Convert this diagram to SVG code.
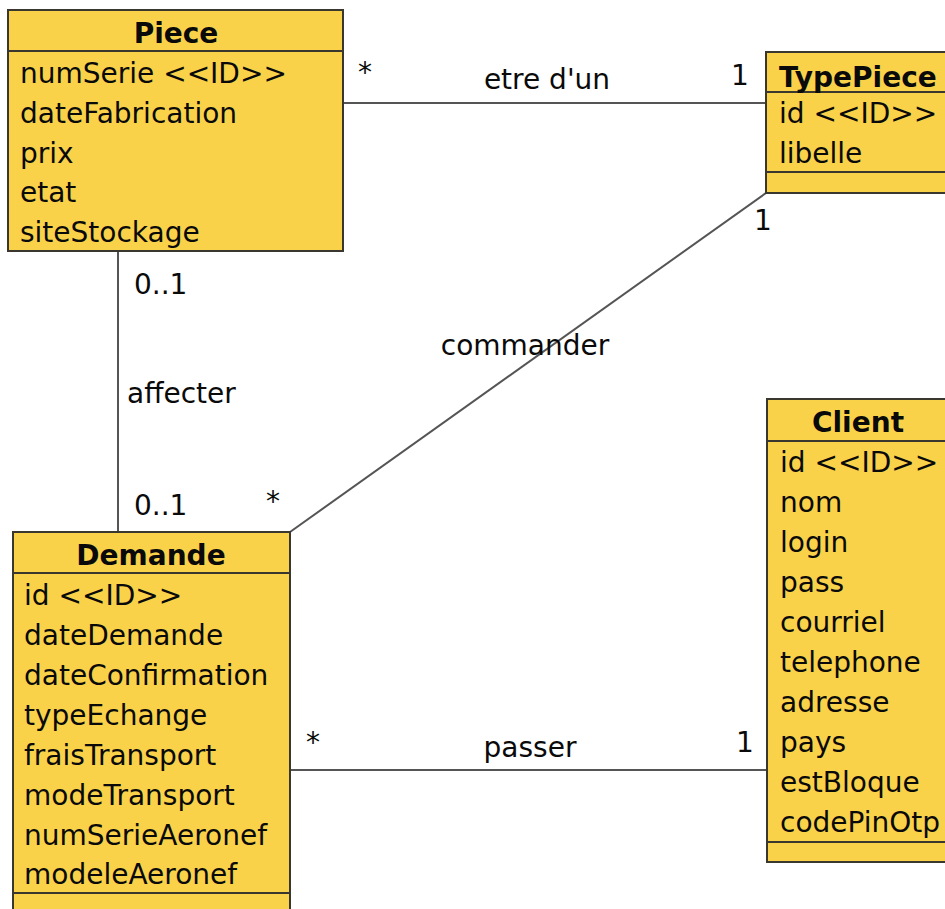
<svg xmlns="http://www.w3.org/2000/svg" width="945" height="909" viewBox="0 0 945 909">
<style>
.box{fill:#F9D24A;stroke:#3a382e;stroke-width:2}
.sep{stroke:#3a382e;stroke-width:2}
.t{font-family:"DejaVu Sans",Verdana,sans-serif;font-size:28px;fill:#0a0a0a}
.h{font-family:"DejaVu Sans",Verdana,sans-serif;font-size:28px;font-weight:bold;fill:#0a0a0a;text-anchor:middle}
.c{stroke:#555;stroke-width:2;fill:none}
</style>
<rect width="945" height="909" fill="#fff"/>
<g id="connectors">
<line class="c" x1="343" y1="103" x2="766" y2="103"/>
<line class="c" x1="118" y1="251" x2="118" y2="532"/>
<line class="c" x1="290" y1="532" x2="766" y2="193"/>
<line class="c" x1="290" y1="770" x2="767" y2="770"/>
<text class="t" x="358" y="82">*</text>
<text class="t" x="547" y="89" text-anchor="middle">etre d'un</text>
<text class="t" x="731" y="85">1</text>
<text class="t" x="134" y="294">0..1</text>
<text class="t" x="127" y="403">affecter</text>
<text class="t" x="134" y="515">0..1</text>
<text class="t" x="266" y="511">*</text>
<text class="t" x="525" y="355" text-anchor="middle">commander</text>
<text class="t" x="754" y="230">1</text>
<text class="t" x="306" y="752">*</text>
<text class="t" x="530" y="757" text-anchor="middle">passer</text>
<text class="t" x="736" y="752">1</text>
</g>
<g id="Piece">
<rect class="box" x="8" y="10" width="335" height="241"/>
<line class="sep" x1="8" y1="51" x2="343" y2="51"/>
<text class="h" x="176" y="43">Piece</text>
<text class="t" x="20" y="83">numSerie &lt;&lt;ID&gt;&gt;</text>
<text class="t" x="20" y="123">dateFabrication</text>
<text class="t" x="20" y="163">prix</text>
<text class="t" x="20" y="202">etat</text>
<text class="t" x="20" y="242">siteStockage</text>
</g>
<g id="TypePiece">
<rect class="box" x="766" y="52" width="200" height="141"/>
<line class="sep" x1="766" y1="92" x2="966" y2="92"/>
<line class="sep" x1="766" y1="172" x2="966" y2="172"/>
<text class="t" x="779" y="87" style="font-weight:bold">TypePiece</text>
<text class="t" x="779" y="123">id &lt;&lt;ID&gt;&gt;</text>
<text class="t" x="779" y="163">libelle</text>
</g>
<g id="Client">
<rect class="box" x="767" y="399" width="180" height="463"/>
<line class="sep" x1="767" y1="441" x2="947" y2="441"/>
<line class="sep" x1="767" y1="842" x2="947" y2="842"/>
<text class="h" x="858" y="432">Client</text>
<text class="t" x="780" y="472">id &lt;&lt;ID&gt;&gt;</text>
<text class="t" x="780" y="512">nom</text>
<text class="t" x="780" y="552">login</text>
<text class="t" x="780" y="592">pass</text>
<text class="t" x="780" y="632">courriel</text>
<text class="t" x="780" y="672">telephone</text>
<text class="t" x="780" y="712">adresse</text>
<text class="t" x="780" y="752">pays</text>
<text class="t" x="780" y="792">estBloque</text>
<text class="t" x="780" y="832">codePinOtp</text>
</g>
<g id="Demande">
<rect class="box" x="13" y="532" width="277" height="400"/>
<line class="sep" x1="13" y1="573" x2="290" y2="573"/>
<line class="sep" x1="13" y1="893" x2="290" y2="893"/>
<text class="h" x="151" y="565">Demande</text>
<text class="t" x="24" y="605">id &lt;&lt;ID&gt;&gt;</text>
<text class="t" x="24" y="645">dateDemande</text>
<text class="t" x="24" y="685">dateConfirmation</text>
<text class="t" x="24" y="725">typeEchange</text>
<text class="t" x="24" y="765">fraisTransport</text>
<text class="t" x="24" y="805">modeTransport</text>
<text class="t" x="24" y="845">numSerieAeronef</text>
<text class="t" x="24" y="884">modeleAeronef</text>
</g>
</svg>
